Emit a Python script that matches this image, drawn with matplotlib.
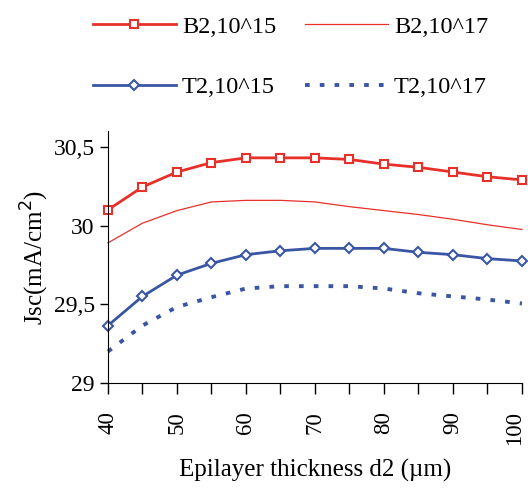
import matplotlib
matplotlib.use('Agg')
import matplotlib.pyplot as plt
from matplotlib.ticker import FuncFormatter
from matplotlib.transforms import ScaledTranslation

plt.rcParams['font.family'] = ['Liberation Serif', 'DejaVu Serif']

# Data
d2 = [40, 45, 50, 55, 60, 65, 70, 75, 80, 85, 90, 95, 100]
b2_15 = [30.10, 30.245, 30.34, 30.40, 30.43, 30.43, 30.43, 30.42, 30.39, 30.37, 30.34, 30.31, 30.29]
b2_17 = [29.89, 30.015, 30.095, 30.15, 30.16, 30.16, 30.15, 30.12, 30.095, 30.07, 30.04, 30.005, 29.975]
t2_15 = [29.365, 29.55, 29.685, 29.76, 29.815, 29.84, 29.855, 29.855, 29.855, 29.83, 29.815, 29.79, 29.775]
t2_17 = [29.20, 29.365, 29.483, 29.545, 29.60, 29.615, 29.615, 29.615, 29.60, 29.57, 29.55, 29.53, 29.505]

red = '#E8302A'
blue = '#3A55A4'

fig = plt.figure(figsize=(5.28, 4.91), dpi=100)
ax = fig.add_axes([0.2045, 0.22, 0.784, 0.513])

l1, = ax.plot(d2, b2_15, color=red, lw=2, marker='s', ms=5.5, mfc='white', mec=red, mew=1.5,
              label='B2,10^15', clip_on=False)
l2, = ax.plot(d2, b2_17, color=red, lw=0.9, label='B2,10^17', clip_on=False)
l3, = ax.plot(d2, t2_15, color=blue, lw=2, marker='D', ms=5, mfc='white', mec=blue, mew=1.5,
              label='T2,10^15', clip_on=False)
l4, = ax.plot(d2, t2_17, color=blue, lw=2.8, ls=(0, (1.2, 2.6)), label='T2,10^17', clip_on=False)

ax.set_xlim(40, 100)
ax.set_ylim(29, 30.6)
ax.set_yticks([29, 29.5, 30, 30.5])
ax.yaxis.set_major_formatter(FuncFormatter(lambda v, p: ('%g' % v).replace('.', ',')))
ax.set_xticks(d2[::2])
ax.set_xticks(d2[1::2], minor=True)
ax.tick_params(axis='x', which='both', length=8, width=1, labelsize=16.5, labelrotation=90, pad=12)
ax.tick_params(axis='y', length=6, width=1, labelsize=17)
for s in ['top', 'right']:
    ax.spines[s].set_visible(False)

ax.set_xlabel('Epilayer thickness d2 (µm)', fontsize=18, labelpad=10)
ax.set_ylabel('Jsc(mA/cm$^2$)', fontsize=18, labelpad=2)

# column-wise fill: B2 pair in first row, T2 pair in second
fig.legend([l1, l3, l2, l4], ['B2,10^15', 'T2,10^15', 'B2,10^17', 'T2,10^17'],
           loc='upper left', bbox_to_anchor=(0.135, 1.013), ncol=2, frameon=False,
           fontsize=17.5, handlelength=3.4, labelspacing=1.6, columnspacing=1.2,
           handletextpad=0.25)

# nudge the "100" label a few pixels left so it stays inside the figure
fig.canvas.draw()
lab = ax.xaxis.get_major_ticks()[-1].label1
lab.set_transform(lab.get_transform() + ScaledTranslation(-5 / 72, 0, fig.dpi_scale_trans))

fig.savefig('out.png', dpi=100)
